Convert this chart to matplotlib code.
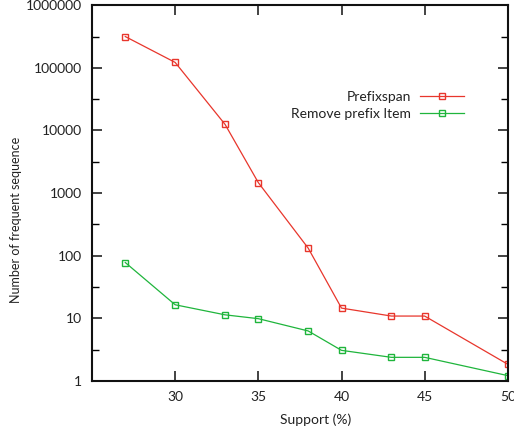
import matplotlib
matplotlib.use("Agg")
import matplotlib.pyplot as plt
import numpy as np
from matplotlib.ticker import FixedLocator, NullFormatter

support = [27, 30, 33, 35, 38, 40, 43, 45, 50]
prefixspan = [316000, 122000, 12500, 1470, 132, 14.6, 10.9, 10.9, 1.85]
remove_prefix = [78, 16.5, 11.4, 9.9, 6.3, 3.09, 2.39, 2.39, 1.22]
series_labels = ["Prefixspan", "Remove prefix Item"]
xticks = [30, 35, 40, 45, 50]
yticks = [1, 10, 100, 1000, 10000, 100000, 1000000]
ytick_labels = ["1", "10", "100", "1000", "10000", "100000", "1000000"]

plt.rcParams['font.family'] = ['Lato', 'DejaVu Sans']
fig = plt.figure(figsize=(5.14, 4.33), dpi=100)
ax = fig.add_axes([0.179, 0.120, 0.809, 0.868])

red = '#e8362c'
green = '#1fb53c'
ax.plot(support, prefixspan, color=red, lw=0.9, marker='s', ms=4.5,
        mfc='none', mec=red, mew=1.0, label=series_labels[0])
ax.plot(support, remove_prefix, color=green, lw=0.9, marker='s', ms=4.5,
        mfc='none', mec=green, mew=1.0, label=series_labels[1])

ax.set_yscale('log')
ax.set_xlim(25, 50)
ax.set_ylim(1, 1000000)
ax.set_xticks(xticks)
ax.set_xticklabels([str(t) for t in xticks])
ax.yaxis.set_major_locator(FixedLocator(yticks))
ax.set_yticklabels(ytick_labels)
minor = [10 ** (k + 0.5) for k in range(6)]
ax.yaxis.set_minor_locator(FixedLocator(minor))
ax.yaxis.set_minor_formatter(NullFormatter())
ax.tick_params(axis='both', which='major', direction='in', length=7, width=1.2,
               top=True, right=True, labelsize=10, colors='#222222', pad=7)
ax.tick_params(axis='y', which='minor', direction='in', length=5, width=1.0,
               right=True)
ax.tick_params(axis='x', which='minor', bottom=False, top=False)
for s in ax.spines.values():
    s.set_linewidth(1.5)
    s.set_color('#111111')

ax.set_xlabel("Support (%)", fontsize=10, color='#222222')
ax.xaxis.set_label_coords(0.538, -0.087)
ax.set_ylabel("Number of frequent sequence", fontsize=9, color='#222222')
ax.yaxis.set_label_coords(-0.168, 0.428)

leg = ax.legend(loc='upper right', bbox_to_anchor=(0.925, 0.805), frameon=False,
                markerfirst=False, handlelength=3.2, fontsize=10,
                labelspacing=0.35, handletextpad=0.6)
for t in leg.get_texts():
    t.set_color('#222222')

fig.savefig("out.png", dpi=100)
